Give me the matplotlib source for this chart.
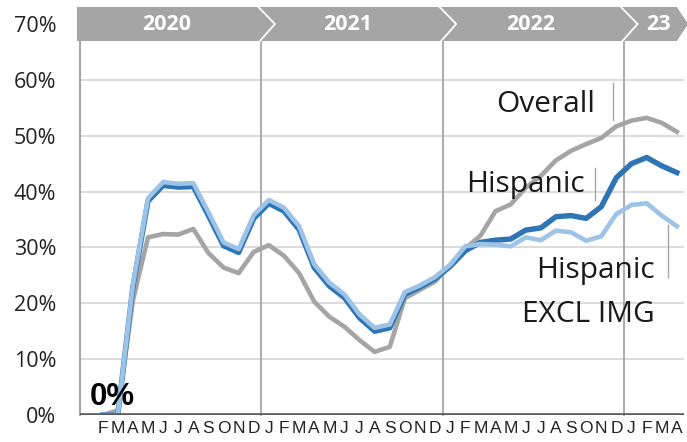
import numpy as np
import matplotlib
matplotlib.use("Agg")
import matplotlib.pyplot as plt
from matplotlib.patches import Polygon

# ---- data (index 0 = Jan 2020 ... 39 = Apr 2023) ----
month_labels = [""] + list("FMAMJJASOND") + list("JFMAMJJASOND") * 2 + list("JFMA")

overall = [np.nan, 0.0, 0.8, 20.5, 31.8, 32.4, 32.3, 33.3, 29.0, 26.4, 25.4, 29.2,
           30.4, 28.5, 25.4, 20.3, 17.6, 15.8, 13.4, 11.3, 12.2, 20.9, 22.4, 23.9,
           26.9, 29.8, 32.1, 36.5, 37.7, 40.7, 42.8, 45.6, 47.3, 48.5, 49.6, 51.7,
           52.7, 53.2, 52.3, 50.7]
hispanic = [np.nan, 0.0, 0.0, 22.9, 38.3, 41.1, 40.8, 40.9, 35.7, 30.3, 29.1, 35.2,
            37.9, 36.5, 33.2, 26.4, 23.1, 21.0, 17.4, 15.0, 15.6, 21.6, 22.9, 24.4,
            26.6, 29.4, 30.9, 31.3, 31.5, 33.1, 33.5, 35.5, 35.7, 35.2, 37.3, 42.5,
            45.0, 46.1, 44.6, 43.4]
hispanic_excl = [np.nan, 0.0, 0.0, 23.3, 38.8, 41.7, 41.4, 41.5, 36.3, 30.9, 29.7, 35.8,
                 38.5, 37.1, 33.8, 27.0, 23.7, 21.6, 18.0, 15.6, 16.2, 22.0, 23.2, 24.7,
                 26.9, 30.2, 30.6, 30.5, 30.2, 31.8, 31.3, 33.0, 32.7, 31.2, 32.0, 36.0,
                 37.6, 37.9, 35.7, 33.8]
years = ["2020", "2021", "2022", "23"]
year_label_x = [5.25, 17.2, 29.3, 37.8]
year_bounds = [11.5, 23.5, 35.5]
yticks = [0, 10, 20, 30, 40, 50, 60, 70]

GRAY = "#a5a5a5"
DBLUE = "#2e75b6"
LBLUE = "#9dc3e6"

fig = plt.figure(figsize=(6.87, 4.42), dpi=100)
ax = fig.add_axes([80/687, 27/442, 604.4/687, 391/442])

x = np.arange(len(month_labels))
ax.set_xlim(-0.5, 39.5)
ax.set_ylim(0, 70)

# grid
for v in yticks[1:-1]:
    ax.axhline(v, color="#d9d9d9", lw=1.3, zorder=0)
# year boundary lines and left axis
for b in year_bounds:
    ax.plot([b, b], [0, 67.2], color=GRAY, lw=1.3, zorder=1, clip_on=False)
ax.plot([-0.5, -0.5], [0, 67.2], color=GRAY, lw=1.5, zorder=1, clip_on=False)

# series
ax.plot(x, overall, color=GRAY, lw=3.3, zorder=3, solid_joinstyle="round")
ax.plot(x, hispanic, color=DBLUE, lw=3.9, zorder=4, solid_joinstyle="round")
ax.plot(x, hispanic_excl, color=LBLUE, lw=3.3, zorder=5, solid_joinstyle="round")

# spines / ticks
for s in ax.spines.values():
    s.set_visible(False)
ax.axhline(0, color="#595959", lw=2.6, zorder=6)
ax.set_yticks(yticks)
ax.set_yticklabels([f"{v}%" for v in yticks], fontsize=15.5, family="Open Sans", color="#222222")
ax.tick_params(axis="y", length=0, pad=17)
ax.set_xticks(x)
ax.set_xticklabels(month_labels, fontsize=12.5, family="Liberation Sans", color="#222222")
ax.tick_params(axis="x", length=0, pad=4)

# header band
top, bot, mid = 73.05, 66.95, 70.0
band = Polygon([(-0.7, top), (39.0, top), (39.75, mid), (39.0, bot), (-0.7, bot)],
               closed=True, facecolor=GRAY, edgecolor="none", zorder=7, clip_on=False)
ax.add_patch(band)
for b in year_bounds:
    ax.plot([b - 0.2, b + 0.9, b - 0.1], [top, mid, bot], color="white", lw=1.3,
            zorder=8, clip_on=False, solid_joinstyle="miter")
for lab, xp in zip(years, year_label_x):
    ax.text(xp, mid, lab, color="white", fontsize=15.5, fontweight="bold",
            family="Open Sans", ha="center", va="center", zorder=9)

# data label
ax.text(1.65, 0.5, "0%", fontsize=22.5, fontweight="bold", family="Liberation Sans",
        ha="center", va="bottom", color="black", zorder=10)

# annotations
afs = 21.5
ax.text(33.58, 54.2, "Overall", fontsize=afs, family="Open Sans", ha="right",
        va="baseline", color="#1a1a1a", zorder=10)
ax.plot([34.77, 34.77], [52.8, 59.4], color=GRAY, lw=1.0, zorder=10)
ax.text(32.92, 39.9, "Hispanic", fontsize=afs, family="Open Sans", ha="right",
        va="baseline", color="#1a1a1a", zorder=10)
ax.plot([33.58, 33.58], [38.5, 44.2], color=GRAY, lw=1.0, zorder=10)
ax.text(37.55, 24.5, "Hispanic", fontsize=afs, family="Open Sans", ha="right",
        va="baseline", color="#1a1a1a", zorder=10)
ax.text(37.55, 16.6, "EXCL IMG", fontsize=afs, family="Open Sans", ha="right",
        va="baseline", color="#1a1a1a", zorder=10)
ax.plot([38.41, 38.41], [24.7, 34.0], color=GRAY, lw=1.0, zorder=10)

fig.savefig("out.png", dpi=100)
